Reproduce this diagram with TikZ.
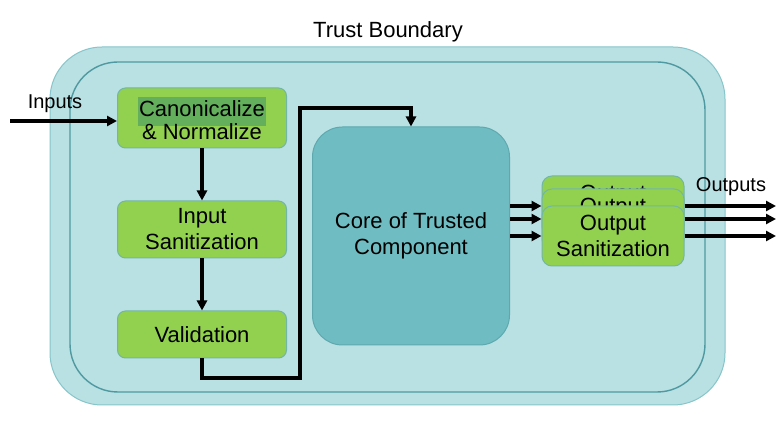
\documentclass[tikz,border=0pt]{standalone}
\usepackage{fontspec}
\setmainfont{Liberation Sans}
\usepackage{tikz}
\usetikzlibrary{positioning,calc,arrows.meta}
\definecolor{tbfill}{HTML}{B9E0E3}
\definecolor{tbline}{HTML}{86C5CA}
\definecolor{tbinner}{HTML}{4E9AA0}
\definecolor{corefill}{HTML}{6FBDC2}
\definecolor{coreline}{HTML}{5DA9AF}
\definecolor{stepfill}{HTML}{92D050}
\definecolor{stepline}{HTML}{72B6A4}
\definecolor{hilite}{HTML}{63AF5C}
\newcommand{\hl}[1]{{\setlength{\fboxsep}{1.5pt}\colorbox{hilite}{\strut #1}}}
\tikzstyle{stage} = [draw=stepline, fill=stepfill, rounded corners=8pt, line width=1pt, align=center, minimum width=169pt]
\tikzstyle{outbox} = [stage, rounded corners=10pt, minimum width=142pt, minimum height=60pt]
\tikzstyle{core} = [draw=coreline, fill=corefill, rounded corners=30pt, line width=1pt, align=center, minimum width=197pt, minimum height=218pt]
\tikzstyle{data} = []
\tikzstyle{to} = [-{Triangle[length=10pt,width=10pt]}, line width=3.2pt]

\begin{document}
\begin{tikzpicture}[x=1pt, y=-1pt, font=\fontsize{22}{26}\selectfont]
	\useasboundingbox (0,0) rectangle (780,438);
	\draw [fill=tbfill, draw=tbline, line width=1pt, rounded corners=52pt] (50,47) rectangle (725,405);
	\draw [draw=tbinner, line width=1.4pt, rounded corners=48pt] (70,62) rectangle (705,392);
	\node (tb) [data] at (388,32) {Trust Boundary};
	\node (canon) [stage, minimum height=60pt] at (202,118) {\hl{Canonicalize}\\[-3pt]\& Normalize};
	\node (sanit) [stage, below of=canon, node distance=111.5pt, minimum height=57pt] {Input\\Sanitization};
	\node (valid) [stage, below of=sanit, node distance=105pt, minimum height=47pt] {Validation};
	\node (core) [core] at (411,236) {Core of Trusted\\Component};
	\node (out3) [outbox] at (613,206) {Output\\Sanitization};
	\node (out2) [outbox, below of=out3, node distance=13pt] {Output\\Sanitization};
	\node (out1) [outbox, below of=out2, node distance=17pt] {Output\\Sanitization};
	\node (inlabel) [data] at (55,104) {\fontsize{20}{24}\selectfont Inputs};
	\node (outlabel) [data] at (731,187) {\fontsize{20}{24}\selectfont Outputs};
	\coordinate (in) at (10,121);
	\coordinate (low) at (300,378);
	\coordinate (high) at (300,108);
	\coordinate (end3) at (776,206);
	\coordinate (end2) at (776,219);
	\coordinate (end1) at (776,236);
	\draw [to] (in) -- (canon.west |- in);
	\draw [to] (canon.south) -- (sanit.north);
	\draw [to] (sanit.south) -- (valid.north);
	\draw [to] (valid.south) |- (low) -- (high) -| (core.north);
	\draw [to] (core.east |- out3.west) -- (out3.west);
	\draw [to] (core.east |- out2.west) -- (out2.west);
	\draw [to] (core.east |- out1.west) -- (out1.west);
	\draw [to] (out3.east) -- (end3);
	\draw [to] (out2.east) -- (end2);
	\draw [to] (out1.east) -- (end1);
\end{tikzpicture}
\end{document}
